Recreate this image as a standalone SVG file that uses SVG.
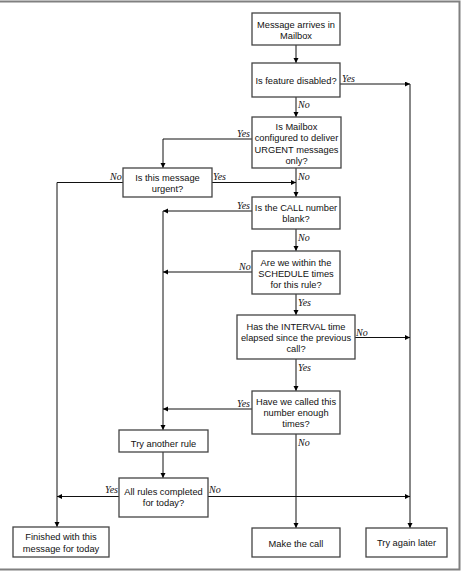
<svg xmlns="http://www.w3.org/2000/svg" width="462" height="572" viewBox="0 0 462 572">
<defs>
<marker id="arr" markerUnits="userSpaceOnUse" markerWidth="6" markerHeight="6" refX="5" refY="2.5" orient="auto">
<path d="M0,0 L5,2.5 L0,5 z" fill="#000"/>
</marker>
</defs>
<style>
.box{fill:#fff;stroke:#444;stroke-width:1.3}
.t{font-family:"Liberation Sans",Arial,sans-serif;font-size:9.3px;fill:#111;text-anchor:middle}
.l{font-family:"Liberation Serif","Times New Roman",serif;font-style:italic;font-size:10px;fill:#111}
.c{fill:none;stroke:#111;stroke-width:1}
</style>
<rect width="462" height="572" fill="#fff"/>
<path d="M0,1.5 H459.5 V569.5 H0" fill="none" stroke="#808080" stroke-width="2"/>
<g id="connectors">
<path class="c" d="M296,45 V63" marker-end="url(#arr)"/>
<path class="c" d="M340,84 H410" marker-end="url(#arr)"/>
<path class="c" d="M410,84 V528" marker-end="url(#arr)"/>
<path class="c" d="M296,97 V117" marker-end="url(#arr)"/>
<path class="c" d="M252,139 H163 V168" marker-end="url(#arr)"/>
<path class="c" d="M296,168 V197" marker-end="url(#arr)"/>
<path class="c" d="M212,182.5 H296" marker-end="url(#arr)"/>
<path class="c" d="M123,182.5 H57 V527" marker-end="url(#arr)"/>
<path class="c" d="M252,211 H163" marker-end="url(#arr)"/>
<path class="c" d="M163,211 V430" marker-end="url(#arr)"/>
<path class="c" d="M296,229 V251" marker-end="url(#arr)"/>
<path class="c" d="M252,272 H163" marker-end="url(#arr)"/>
<path class="c" d="M296,294 V315" marker-end="url(#arr)"/>
<path class="c" d="M355,337.5 H410" marker-end="url(#arr)"/>
<path class="c" d="M296,359 V391" marker-end="url(#arr)"/>
<path class="c" d="M252,409 H163" marker-end="url(#arr)"/>
<path class="c" d="M296,434 V528" marker-end="url(#arr)"/>
<path class="c" d="M163,452 V478" marker-end="url(#arr)"/>
<path class="c" d="M119,496.5 H57" marker-end="url(#arr)"/>
<path class="c" d="M208,496.5 H410" marker-end="url(#arr)"/>
<text class="l" x="342" y="82">Yes</text>
<text class="l" x="298" y="108">No</text>
<text class="l" x="237" y="137">Yes</text>
<text class="l" x="298" y="180">No</text>
<text class="l" x="110" y="180">No</text>
<text class="l" x="213" y="180">Yes</text>
<text class="l" x="237" y="208.5">Yes</text>
<text class="l" x="298" y="241">No</text>
<text class="l" x="239" y="270">No</text>
<text class="l" x="298" y="306">Yes</text>
<text class="l" x="356" y="336">No</text>
<text class="l" x="298" y="371">Yes</text>
<text class="l" x="237" y="406.5">Yes</text>
<text class="l" x="298" y="446">No</text>
<text class="l" x="105" y="493">Yes</text>
<text class="l" x="209" y="493">No</text>
</g>
<g id="n1"><rect class="box" x="252" y="13" width="88" height="32"/><text class="t" x="296" y="28">Message arrives in</text><text class="t" x="296" y="39">Mailbox</text></g>
<g id="n2"><rect class="box" x="252" y="63" width="88" height="34"/><text class="t" x="296" y="83.5">Is feature disabled?</text></g>
<g id="n3"><rect class="box" x="252" y="117" width="89" height="51"/><text class="t" x="296.5" y="130">Is Mailbox</text><text class="t" x="296.5" y="141.3">configured to deliver</text><text class="t" x="296.5" y="152.6">URGENT messages</text><text class="t" x="296.5" y="164">only?</text></g>
<g id="n4"><rect class="box" x="123" y="168" width="89" height="29"/><text class="t" x="167.5" y="181">Is this message</text><text class="t" x="167.5" y="192">urgent?</text></g>
<g id="n5"><rect class="box" x="252" y="197" width="88" height="32"/><text class="t" x="296" y="211">Is the CALL number</text><text class="t" x="296" y="222">blank?</text></g>
<g id="n6"><rect class="box" x="252" y="251" width="88" height="43"/><text class="t" x="296" y="266">Are we within the</text><text class="t" x="296" y="277">SCHEDULE times</text><text class="t" x="296" y="288.3">for this rule?</text></g>
<g id="n7"><rect class="box" x="237" y="315" width="118" height="44"/><text class="t" x="296" y="329.5">Has the INTERVAL time</text><text class="t" x="296" y="340.5">elapsed since the previous</text><text class="t" x="296" y="351.5">call?</text></g>
<g id="n8"><rect class="box" x="252" y="391" width="88" height="43"/><text class="t" x="296" y="405">Have we called this</text><text class="t" x="296" y="416">number enough</text><text class="t" x="296" y="427">times?</text></g>
<g id="n9"><rect class="box" x="119" y="430" width="89" height="22"/><text class="t" x="163.5" y="446.5">Try another rule</text></g>
<g id="n10"><rect class="box" x="119" y="478" width="89" height="39"/><text class="t" x="163.5" y="495">All rules completed</text><text class="t" x="163.5" y="506">for today?</text></g>
<g id="n11"><rect class="box" x="252" y="528" width="88" height="29"/><text class="t" x="296" y="546.5">Make the call</text></g>
<g id="n12"><rect class="box" x="366" y="528" width="81" height="29"/><text class="t" x="406.5" y="546">Try again later</text></g>
<g id="n13"><rect class="box" x="13" y="527" width="96" height="30"/><text class="t" x="61" y="540">Finished with this</text><text class="t" x="61" y="551.5">message for today</text></g>
</svg>
